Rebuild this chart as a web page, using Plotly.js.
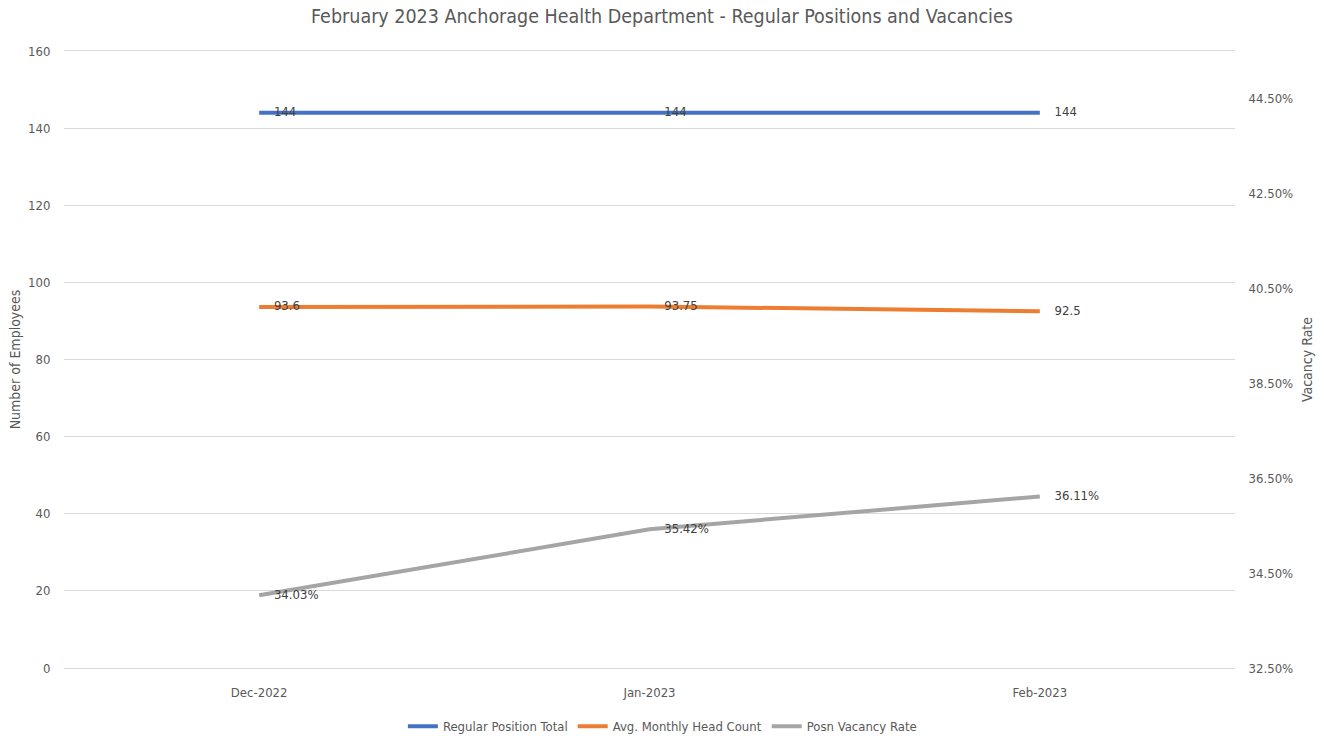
<!DOCTYPE html>
<html><head><meta charset="utf-8">
<script src="https://cdn.plot.ly/plotly-3.0.1.min.js"></script>
<style>html,body{margin:0;padding:0;background:#fff}#chart{width:1324px;height:736px}</style>
</head><body><div id="chart"></div>
<script>
const months = ['Dec-2022', 'Jan-2023', 'Feb-2023'];
const regularPositionTotal = [144, 144, 144];
const avgMonthlyHeadCount = [93.6, 93.75, 92.5];
const posnVacancyRate = [34.03, 35.42, 36.11];
const employeeTicks = [0, 20, 40, 60, 80, 100, 120, 140, 160];
const vacancyTicks = [32.5, 34.5, 36.5, 38.5, 40.5, 42.5, 44.5];

const FONT = '"Liberation Sans Narrow", "DejaVu Sans Condensed", "Open Sans", sans-serif';
const labelFont = {family: FONT, size: 13, color: '#404040'};
const hiddenMarker = {size: 22, color: 'rgba(0,0,0,0)'};

const traces = [
  {x: months, y: regularPositionTotal, name: 'Regular Position Total', type: 'scatter', mode: 'lines+markers+text',
   marker: hiddenMarker, line: {color: '#4472C4', width: 4}, text: regularPositionTotal.map(String), textposition: 'middle right', textfont: labelFont},
  {x: months, y: avgMonthlyHeadCount, name: 'Avg. Monthly Head Count', type: 'scatter', mode: 'lines+markers+text',
   marker: hiddenMarker, line: {color: '#ED7D31', width: 4}, text: avgMonthlyHeadCount.map(String), textposition: 'middle right', textfont: labelFont},
  {x: months, y: posnVacancyRate, name: 'Posn Vacancy Rate', type: 'scatter', mode: 'lines+markers+text', yaxis: 'y2',
   marker: hiddenMarker, line: {color: '#A5A5A5', width: 4}, text: posnVacancyRate.map(v => v.toFixed(2) + '%'), textposition: 'middle right', textfont: labelFont}
];

const layout = {
  width: 1324, height: 736,
  margin: {l: 64, r: 89, t: 51, b: 68, autoexpand: false},
  paper_bgcolor: '#fff', plot_bgcolor: '#fff',
  font: {family: FONT, color: '#595959', size: 13},
  title: {text: 'February 2023 Anchorage Health Department - Regular Positions and Vacancies',
          font: {family: FONT, size: 19.5, color: '#595959'}, x: 0.5, xanchor: 'center', y: 0.978, yanchor: 'middle'},
  xaxis: {type: 'category', range: [-0.5, 2.5], showgrid: false, zeroline: false,
          showline: true, mirror: true, linecolor: '#D9D9D9', linewidth: 1,
          ticks: 'outside', ticklen: 12, tickcolor: 'rgba(0,0,0,0)', tickfont: {size: 13, color: '#595959'}},
  yaxis: {range: [0, 160], tickvals: employeeTicks, showgrid: true, gridcolor: '#D9D9D9', gridwidth: 1,
          zeroline: false, showline: false, ticks: 'outside', ticklen: 10, tickcolor: 'rgba(0,0,0,0)',
          title: {text: 'Number of Employees', font: {size: 14, color: '#595959'}, standoff: 4}, tickfont: {size: 13, color: '#595959'}},
  yaxis2: {overlaying: 'y', side: 'right', range: [32.5, 45.49], tickvals: vacancyTicks,
           ticktext: vacancyTicks.map(v => v.toFixed(2) + '%'), showgrid: false, zeroline: false, showline: false,
           ticks: 'outside', ticklen: 10, tickcolor: 'rgba(0,0,0,0)',
           title: {text: 'Vacancy Rate', font: {size: 14, color: '#595959'}, standoff: 10}, tickfont: {size: 13, color: '#595959'}},
  showlegend: true,
  legend: {orientation: 'h', x: 0.511, xanchor: 'center', y: -0.07, yanchor: 'top',
           itemwidth: 30, font: {size: 13, color: '#595959'}}
};

Plotly.newPlot('chart', traces, layout, {displayModeBar: false, staticPlot: true});
</script></body></html>
